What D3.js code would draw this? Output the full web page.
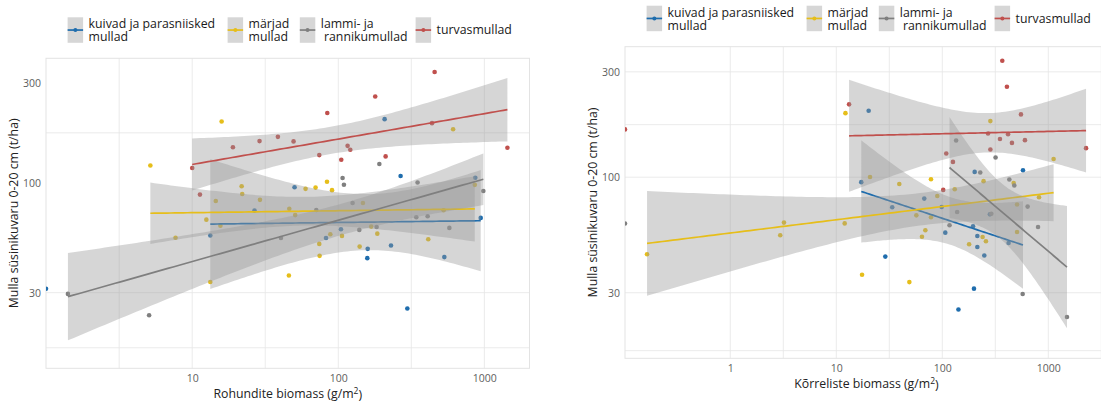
<!DOCTYPE html>
<html>
<head>
<meta charset="utf-8">
<script src="https://cdn.jsdelivr.net/npm/d3@7"></script>
<style>
  html, body { margin: 0; padding: 0; background: #fff; }
  svg { display: block; font-family: "Open Sans", "Noto Sans", sans-serif; }
</style>
</head>
<body>
<svg id="chart" width="1101" height="403"></svg>
<script>
// ---------------- data ----------------
// soil groups (legend order) and their colours
const legendLabels = [["kuivad ja parasniisked", "mullad"], ["märjad", "mullad"], ["lammi- ja", " rannikumullad"], ["turvasmullad"]];
const groupColors = ["#1F6DAD", "#E6BE1A", "#7F7F7F", "#C0504D"];

// herb biomass (g/m2) vs soil carbon stock 0-20 cm (t/ha); biomass 0 sits on the axis edge
const herbDry = [[0, 31.3], [13.3, 56.1], [26.7, 73.8], [50.2, 95.2], [82.4, 54.6], [104.3, 60.1], [158, 43.8], [159, 48.5], [207.6, 201], [229.5, 50.3], [267, 107.8], [297, 25.2], [532, 44.3], [867, 105.7], [944, 68.1]];
const herbWet = [[5.17, 121], [7.69, 54.8], [12.5, 66.8], [13.3, 33.7], [14.5, 82], [15.6, 62.5], [15.9, 196], [21.8, 96.4], [22.0, 88.5], [29.1, 83], [45.9, 36.2], [46.2, 75.2], [50.7, 70.2], [59.7, 93.6], [69.9, 94.9], [74.1, 51.2], [74.5, 44.9], [83.7, 101.2], [88.2, 56.9], [90.6, 92.3], [106, 55.9], [140, 49.7], [147.5, 80.2], [168, 61.9], [185, 57.3], [413, 53.9], [526, 74.1], [611, 180], [860, 97.8]];
const herbFlood = [[1.41, 29.6], [5.07, 23.4], [40.5, 54.6], [70.7, 74.3], [107, 105.4], [109.3, 98], [125.3, 80.2], [139.3, 59.7], [183, 61.6], [191, 123], [342, 68.6], [349, 100.3], [409, 69.3], [576, 61], [984, 91.4]];
const herbPeat = [[10, 117.7], [11.3, 87.9], [19.0, 147.6], [28.9, 158], [38.6, 165.6], [49.4, 157.5], [74.1, 135.5], [84.1, 214.9], [104.8, 128.8], [115.8, 150], [120.8, 143.7], [179, 257.6], [210.9, 133.6], [438, 192.4], [456.6, 337], [1438, 146.9]];

// grass biomass (g/m2) vs soil carbon stock 0-20 cm (t/ha)
const grassDry = [[17.2, 95], [20.2, 200], [29.0, 43.7], [33.7, 73.1], [67.6, 80], [98.6, 73.3], [106.7, 56.1], [142, 25.2], [195, 60], [199, 31.3], [202, 105.7], [214, 54.2], [214, 48.3], [249, 44.2], [281, 67.9], [422, 50.4], [577, 107.6]];
const grassWet = [[0.164, 44.8], [2.96, 54.6], [3.21, 62.3], [12.0, 61.8], [12.2, 195], [17.5, 36.2], [20.8, 100.3], [39.3, 93.2], [48.9, 33.5], [56.9, 67.2], [64.3, 53.8], [69.2, 57.5], [78.2, 97.9], [78.2, 65.9], [89.7, 82.2], [131, 88.2], [179, 49.7], [240, 53.6], [245, 96], [258, 51.3], [284, 179.5], [471, 94.2], [507, 75.2], [507, 56.5], [817, 81.2], [1122, 121]];
const grassFlood = [[0, 61.7], [117, 60.6], [135, 146.7], [138, 69.6], [228, 105], [290, 68.3], [318, 122.9], [429, 97.6], [478, 91.7], [573, 29.6], [638, 73.6], [800, 59.5], [1500, 23.3]];
const grassPeat = [[0, 164.6], [13.2, 213.8], [102, 87.6], [109, 128.1], [126, 117.3], [270, 157.8], [284, 133.6], [350, 149], [368, 337], [407, 256.8], [417, 156.7], [454, 143], [552, 192.5], [602, 147.2], [2270, 135.4]];

// axis limits, ticks and grid values
const herbXDomain = [0.998, 2037];
const herbYDomain = [13.09, 391.7];
const grassXDomain = [0.1016, 3656];
const grassYDomain = [15.14, 389.9];
const yTicks = [30, 100, 300];
const herbXTicks = [10, 100, 1000];
const grassXTicks = [1, 10, 100, 1000];
const herbGridX = [3.162, 10, 31.62, 100, 316.2, 1000];
const herbGridY = [16.4, 30, 173];
const grassGridX = [1, 3.162, 10, 31.62, 100, 316.2, 1000, 3162];
const grassGridY = [16.4, 30, 100, 173, 300];

const yTitle = "Mulla süsinikuvaru 0-20 cm (t/ha)";
const herbTitle = "Rohundite biomass";
const grassTitle = "Kõrreliste biomass";

// ---------------- helpers ----------------
// upper 97.5% quantile of Student's t (Cornish-Fisher expansion)
function tQuantile(df) {
  const z = 1.959964;
  const z3 = z ** 3, z5 = z ** 5, z7 = z ** 7, z9 = z ** 9;
  const g1 = (z3 + z) / 4;
  const g2 = (5 * z5 + 16 * z3 + 3 * z) / 96;
  const g3 = (3 * z7 + 19 * z5 + 17 * z3 - 15 * z) / 384;
  const g4 = (79 * z9 + 776 * z7 + 1482 * z5 - 1920 * z3 - 945 * z) / 92160;
  return z + g1 / df + g2 / df ** 2 + g3 / df ** 3 + g4 / df ** 4;
}

// linear model on log10-log10 axes with 95% confidence band
function smoothLm(points) {
  const P = points.filter(d => d[0] > 0).map(d => [Math.log10(d[0]), Math.log10(d[1])]);
  const n = P.length;
  const mx = d3.mean(P, d => d[0]), my = d3.mean(P, d => d[1]);
  const sxx = d3.sum(P, d => (d[0] - mx) ** 2);
  const sxy = d3.sum(P, d => (d[0] - mx) * (d[1] - my));
  const b = sxy / sxx, a = my - b * mx;
  const rss = d3.sum(P, d => (d[1] - a - b * d[0]) ** 2);
  const s = Math.sqrt(rss / (n - 2));
  const t = tQuantile(n - 2);
  const [lo, hi] = d3.extent(P, d => d[0]);
  return d3.range(80).map(i => {
    const X = lo + (hi - lo) * i / 79;
    const Y = a + b * X;
    const se = s * Math.sqrt(1 / n + (X - mx) ** 2 / sxx);
    return { x: 10 ** X, y: 10 ** Y, lo: 10 ** (Y - t * se), hi: 10 ** (Y + t * se) };
  });
}

const svg = d3.select("#chart");

const panels = [
  { id: "herb", title: herbTitle, series: [herbDry, herbWet, herbFlood, herbPeat],
    xDomain: herbXDomain, yDomain: herbYDomain, xTicks: herbXTicks,
    gridX: herbGridX, gridY: herbGridY,
    box: { x0: 46, x1: 529.5, y0: 58.3, y1: 368.3 } },
  { id: "grass", title: grassTitle, series: [grassDry, grassWet, grassFlood, grassPeat],
    xDomain: grassXDomain, yDomain: grassYDomain, xTicks: grassXTicks,
    gridX: grassGridX, gridY: grassGridY,
    box: { x0: 625, x1: 1108, y0: 46.7, y1: 358.3 } }
];

const legendOffsets = [21.6, 181.6, 253.8, 369.6];

panels.forEach(p => {
  const { x0, x1, y0, y1 } = p.box;
  const x = d3.scaleLog().domain(p.xDomain).range([x0, x1]);
  const y = d3.scaleLog().domain(p.yDomain).range([y1, y0]);
  const px = v => (v > 0 ? x(v) : x0);
  const g = svg.append("g");

  g.append("clipPath").attr("id", "clip-" + p.id)
    .append("rect").attr("x", x0).attr("y", y0).attr("width", x1 - x0).attr("height", y1 - y0);

  // grid
  const grid = g.append("g").attr("stroke", "#e6e6e6").attr("stroke-width", 0.8);
  grid.selectAll("line.gx").data(p.gridX.filter(v => x(v) < x1)).join("line")
    .attr("x1", d => x(d)).attr("x2", d => x(d)).attr("y1", y0).attr("y2", y1);
  grid.selectAll("line.gy").data(p.gridY).join("line")
    .attr("x1", x0).attr("x2", x1).attr("y1", d => y(d)).attr("y2", d => y(d));
  g.append("rect").attr("x", x0).attr("y", y0).attr("width", x1 - x0).attr("height", y1 - y0)
    .attr("fill", "none").attr("stroke", "#e3e3e3").attr("stroke-width", 1);

  const plot = g.append("g").attr("clip-path", `url(#clip-${p.id})`);

  // points
  p.series.forEach((pts, gi) => {
    plot.append("g").selectAll("circle").data(pts).join("circle")
      .attr("cx", d => px(d[0])).attr("cy", d => y(d[1])).attr("r", 2.3)
      .attr("fill", groupColors[gi]);
  });

  // smoothers: ribbon then line per group
  const area = d3.area().x(d => x(d.x)).y0(d => y(d.lo)).y1(d => y(d.hi));
  const line = d3.line().x(d => x(d.x)).y(d => y(d.y));
  p.series.forEach((pts, gi) => {
    const fit = smoothLm(pts);
    plot.append("path").attr("d", area(fit)).attr("fill", "#999999").attr("fill-opacity", 0.4);
    plot.append("path").attr("d", line(fit)).attr("fill", "none")
      .attr("stroke", groupColors[gi]).attr("stroke-width", 1.7);
  });

  // axes
  const yAxis = g.append("g").attr("transform", `translate(${x0},0)`)
    .call(d3.axisLeft(y).tickValues(yTicks).tickFormat(d3.format("d")).tickSize(0).tickPadding(5));
  const xAxis = g.append("g").attr("transform", `translate(0,${y1})`)
    .call(d3.axisBottom(x).tickValues(p.xTicks).tickFormat(d3.format("d")).tickSize(0).tickPadding(6));
  [yAxis, xAxis].forEach(ax => {
    ax.select(".domain").remove();
    ax.selectAll("text").attr("fill", "#5e5e5e").style("font-size", "10.5px")
      .style("font-family", '"Open Sans", "Noto Sans", sans-serif');
  });

  // titles
  const xt = g.append("text").attr("x", (x0 + x1) / 2).attr("y", y1 + 29.3)
    .attr("text-anchor", "middle").attr("fill", "#222").style("font-size", "12.3px");
  xt.append("tspan").text(p.title + " (g/m");
  xt.append("tspan").attr("dy", "-0.45em").style("font-size", "8.5px").text("2");
  xt.append("tspan").attr("dy", "0.45em").text(")");

  g.append("text")
    .attr("transform", `translate(${x0 - 28},${(y0 + y1) / 2}) rotate(-90)`)
    .attr("text-anchor", "middle").attr("fill", "#222").style("font-size", "12.3px")
    .text(yTitle);

  // legend: grey key with line and dot, labels on one or two lines
  const lg = g.append("g");
  legendLabels.forEach((lab, gi) => {
    const kx = x0 + legendOffsets[gi];
    const ky = y0 - 41;
    const kh = 25.5;
    lg.append("rect").attr("x", kx).attr("y", ky).attr("width", 15.5).attr("height", kh)
      .attr("fill", "#d6d6d6");
    lg.append("line").attr("x1", kx).attr("x2", kx + 15.5)
      .attr("y1", ky + kh / 2).attr("y2", ky + kh / 2)
      .attr("stroke", groupColors[gi]).attr("stroke-width", 1.7);
    lg.append("circle").attr("cx", kx + 7.75).attr("cy", ky + kh / 2).attr("r", 2)
      .attr("fill", groupColors[gi]);
    if (lab.length === 1) {
      lg.append("text").attr("x", kx + 21).attr("y", ky + kh / 2).attr("dy", "0.35em")
        .attr("fill", "#1a1a1a").style("font-size", "12.3px").text(lab[0]);
    } else {
      lab.forEach((s, li) => {
        lg.append("text").attr("x", kx + 21).attr("y", ky + 6.6 + li * 12.9).attr("dy", "0.35em")
          .attr("fill", "#1a1a1a").style("font-size", "12.3px").style("white-space", "pre").text(s);
      });
    }
  });
});
</script>
</body>
</html>
